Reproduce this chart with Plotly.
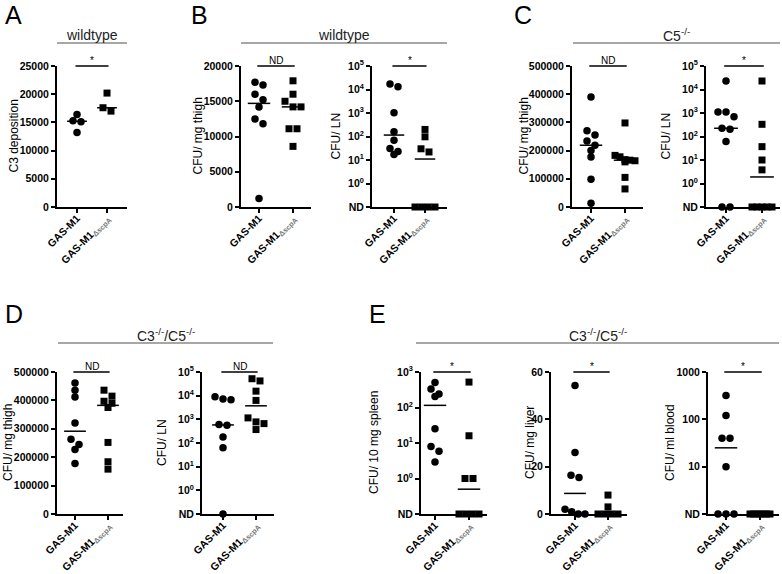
import numpy as np
import plotly.graph_objects as go

W, H = 782, 574

def px_x(x):
    return x / W

def px_y(y):
    return 1 - y / H

# ---------------- data ----------------
categories = ["GAS-M1", "GAS-M1<sub><span style='color:#777777'>ΔscpA</span></sub>"]

A_c3_wt = [15300, 15100, 16400, 13200]
A_c3_mut = [20200, 17600, 17000]

B_thigh_wt = [17300, 17700, 16000, 14200, 15200, 12500, 11800, 1200]
B_thigh_mut = [17900, 16000, 15000, 14200, 14200, 11100, 11100, 8600]
B_ln_wt = [17100, 13200, 1030, 160, 70, 31, 17, 23]
B_ln_mut = [200, 97, 30, 22, 0, 0, 0, 0]

C_thigh_wt = [390000, 255000, 270000, 234000, 200000, 219000, 177000, 98000, 13000]
C_thigh_mut = [298000, 183000, 178000, 168000, 164000, 160000, 166000, 105000, 64000]
C_ln_wt = [23000, 1100, 1100, 700, 204, 224, 61, 0, 0]
C_ln_mut = [23000, 330, 37, 10, 3.8, 0, 0, 0, 0, 0]

D_thigh_wt = [461000, 436000, 412000, 320000, 263000, 245000, 227000, 178000]
D_thigh_mut = [436000, 415000, 397000, 390000, 375000, 252000, 184000, 158000]
D_ln_wt = [8900, 6800, 7200, 600, 560, 180, 63, 0]
D_ln_mut = [52000, 42000, 15500, 6300, 1150, 780, 660, 370]

E_spleen_wt = [510, 240, 205, 330, 25, 8, 5.9, 2.9]
E_spleen_mut = [520, 16, 1, 1, 0, 0, 0, 0]
E_liver_wt = [54.3, 26, 16.4, 15.4, 2, 1, 0, 0]
E_liver_mut = [8, 3, 0, 0, 0, 0]
E_blood_wt = [320, 120, 40, 40, 10, 0, 0, 0]
E_blood_mut = [0, 0, 0, 0, 0, 0, 0]

sig_labels = ["*", "ND", "*", "ND", "*", "ND", "ND", "*", "*", "*"]
y_titles = ["C3 deposition", "CFU/ mg thigh", "CFU/ LN", "CFU/ mg thigh", "CFU/ LN",
            "CFU/ mg thigh", "CFU/ LN", "CFU/ 10 mg spleen", "CFU/ mg liver", "CFU/ ml blood"]

lin_ticks_A = [0, 5000, 10000, 15000, 20000, 25000]
lin_ticks_B = [0, 5000, 10000, 15000, 20000]
lin_ticks_CD = [0, 100000, 200000, 300000, 400000, 500000]
lin_ticks_liver = [0, 20, 40, 60]

# ---------------- layout geometry (window pixels) ----------------
# (axis_x, right_x, cat0_x, cat1_x, top_y, bottom_y, title_x)
geo = [
    (57, 127, 77, 107, 66, 207, 13),
    (241, 311, 259, 293, 66, 207, 197),
    (372, 447, 394, 425, 66, 207, 335),
    (572, 643, 591, 625, 66, 207, 523),
    (706, 780, 726, 762, 66, 207, 665),
    (57, 123, 75, 108, 372, 514, 8),
    (202, 274, 223, 256, 372, 514, 162),
    (421, 487, 435, 469, 372, 514, 374),
    (551, 627, 575, 608, 372, 514, 530),
    (708, 779, 726, 760, 372, 514, 670),
]

def log_ticks(lo, hi):
    vals = [10.0 ** k for k in range(lo, hi + 1)]
    txt = [f"<b>10<sup>{k}</sup></b>" for k in range(lo, hi + 1)]
    txt[0] = "<b>ND</b>"
    return vals, txt

panels = [
    dict(wt=A_c3_wt, mut=A_c3_mut, log=False, rng=(0, 25000), ticks=lin_ticks_A),
    dict(wt=B_thigh_wt, mut=B_thigh_mut, log=False, rng=(0, 20000), ticks=lin_ticks_B),
    dict(wt=B_ln_wt, mut=B_ln_mut, log=True, rng=(-1, 5)),
    dict(wt=C_thigh_wt, mut=C_thigh_mut, log=False, rng=(0, 500000), ticks=lin_ticks_CD),
    dict(wt=C_ln_wt, mut=C_ln_mut, log=True, rng=(-1, 5)),
    dict(wt=D_thigh_wt, mut=D_thigh_mut, log=False, rng=(0, 500000), ticks=lin_ticks_CD),
    dict(wt=D_ln_wt, mut=D_ln_mut, log=True, rng=(-1, 5)),
    dict(wt=E_spleen_wt, mut=E_spleen_mut, log=True, rng=(-1, 3)),
    dict(wt=E_liver_wt, mut=E_liver_mut, log=False, rng=(0, 60), ticks=lin_ticks_liver),
    dict(wt=E_blood_wt, mut=E_blood_mut, log=True, rng=(0, 3), blood=True),
]

FONT = "Liberation Sans, Arial, sans-serif"

def swarm_offsets(ypx, spacing=8.0, maxw=20.0, thr=6.0):
    order = np.argsort(ypx)
    rows, cur = [], [order[0]]
    for i in order[1:]:
        if abs(ypx[i] - ypx[cur[0]]) < thr:
            cur.append(i)
        else:
            rows.append(cur)
            cur = [i]
    rows.append(cur)
    off = np.zeros(len(ypx))
    for r in rows:
        n = len(r)
        if n == 1:
            continue
        step = min(spacing, maxw / (n - 1))
        r_sorted = sorted(r, key=lambda k: ypx[k])
        for j, k in enumerate(r_sorted):
            off[k] = (j - (n - 1) / 2) * step
    return off

fig = go.Figure()
shapes, annotations = [], []
layout = {}

for i, (p, g) in enumerate(zip(panels, geo), start=1):
    ax, rx, c0, c1, top, bot, tx = g
    sp = c1 - c0
    xr = [-(c0 - ax) / sp, 1 + (rx - c1) / sp]
    xname = "x" if i == 1 else f"x{i}"
    yname = "y" if i == 1 else f"y{i}"
    lo, hi = p["rng"]
    nd_val = 10.0 ** lo if p["log"] else 0.0

    def to_px(v):
        if p["log"]:
            lv = np.log10(v) if v > 0 else lo
            return bot - (lv - lo) / (hi - lo) * (bot - top)
        return bot - (v - lo) / (hi - lo) * (bot - top)

    for gi, (vals, sym, size) in enumerate([(p["wt"], "circle", 7.5), (p["mut"], "square", 7)]):
        vals = np.array(vals, dtype=float)
        plot_vals = np.where(vals > 0, vals, nd_val) if p["log"] else vals
        ypx = np.array([to_px(v) for v in vals])
        offs = swarm_offsets(ypx) / sp
        fig.add_trace(go.Scatter(
            x=gi + offs, y=plot_vals, mode="markers",
            marker=dict(symbol=sym, size=size, color="black"),
            xaxis=xname, yaxis=yname, cliponaxis=False, showlegend=False,
            hoverinfo="skip"))
        med = float(np.median(vals))
        if p["log"] and med <= 0:
            med = nd_val
        fig.add_trace(go.Scatter(
            x=[gi - 0.33, gi + 0.33], y=[med, med], mode="lines",
            line=dict(color="black", width=1.5),
            xaxis=xname, yaxis=yname, cliponaxis=False, showlegend=False,
            hoverinfo="skip"))

    xdom = [px_x(ax), px_x(rx)]
    ydom = [px_y(bot), px_y(top)]
    layout["xaxis" if i == 1 else f"xaxis{i}"] = dict(
        domain=xdom, range=xr, anchor=yname, showgrid=False, zeroline=False,
        showline=True, linecolor="black", linewidth=2, automargin=False,
        tickmode="array", tickvals=[0, 1], ticktext=[f"<b>{c}</b>" for c in categories],
        ticks="outside", ticklen=4, tickwidth=1.5, tickcolor="black",
        ticklabelstandoff=-5,
        tickangle=-45, tickfont=dict(family=FONT, size=10.5, color="black"),
        fixedrange=True)
    if p["log"]:
        if p.get("blood"):
            tv = [1, 10, 100, 1000]
            tt = ["<b>ND</b>", "<b>10</b>", "<b>100</b>", "<b>1000</b>"]
        else:
            tv, tt = log_ticks(lo, hi)
        ycfg = dict(type="log", range=[lo, hi], tickvals=tv, ticktext=tt)
    else:
        ycfg = dict(range=[lo, hi], tickvals=p["ticks"],
                    ticktext=[f"<b>{t}</b>" for t in p["ticks"]])
    ycfg.update(domain=ydom, anchor=xname, showgrid=False, zeroline=False,
                showline=True, linecolor="black", linewidth=2, automargin=False,
                tickmode="array", ticks="outside", ticklen=4, tickwidth=1.5,
                tickcolor="black",
                tickfont=dict(family=FONT, size=10.5, color="black"),
                fixedrange=True)
    layout["yaxis" if i == 1 else f"yaxis{i}"] = ycfg

    # significance bar
    shapes.append(dict(type="line", xref=xname, yref=f"{yname} domain",
                       x0=-0.05, x1=1.05, y0=1, y1=1,
                       line=dict(color="black", width=1.5)))
    annotations.append(dict(text=sig_labels[i - 1], xref=xname, yref=f"{yname} domain",
                            x=0.5, y=1, yanchor="bottom", showarrow=False,
                            font=dict(family=FONT, size=10, color="black"), yshift=-2))
    # y title
    annotations.append(dict(text=y_titles[i - 1], xref="paper", yref="paper",
                            x=px_x(tx), y=px_y((top + bot) / 2), textangle=-90,
                            xanchor="center", yanchor="middle", showarrow=False,
                            font=dict(family=FONT, size=12, color="black")))

# section headers: (text, x0, x1, line_y, text_y)
headers = [
    ("wildtype", 57, 127, 43, 35),
    ("wildtype", 241, 447, 43, 35),
    ("C5<sup>-/-</sup>", 573, 780, 43, 35),
    ("C3<sup>-/-</sup>/C5<sup>-/-</sup>", 58, 273, 343, 335),
    ("C3<sup>-/-</sup>/C5<sup>-/-</sup>", 416, 779, 343, 335),
]
for txt, x0, x1, ly, ty in headers:
    shapes.append(dict(type="line", xref="paper", yref="paper",
                       x0=px_x(x0), x1=px_x(x1), y0=px_y(ly), y1=px_y(ly),
                       line=dict(color="#8a8a8a", width=1.5)))
    annotations.append(dict(text=txt, xref="paper", yref="paper",
                            x=px_x((x0 + x1) / 2), y=px_y(ty), xanchor="center",
                            yanchor="middle", showarrow=False,
                            font=dict(family=FONT, size=14, color="#222222")))

letters = [("A", 3, 15), ("B", 189, 15), ("C", 512, 15), ("D", 3, 314), ("E", 367, 314)]
for t, x, y in letters:
    annotations.append(dict(text=t, xref="paper", yref="paper", x=px_x(x), y=px_y(y),
                            xanchor="left", yanchor="middle", showarrow=False,
                            font=dict(family=FONT, size=25, color="black")))

fig.update_layout(
    width=W, height=H, margin=dict(l=0, r=0, t=0, b=0, autoexpand=False),
    paper_bgcolor="white", plot_bgcolor="white",
    shapes=shapes, annotations=annotations, showlegend=False,
    **layout)

# remove the browser's default 8px page margin so the figure fills the window exactly
fig.write_html("out.html", config={"displayModeBar": False},
               post_script="document.body.style.margin='0px';")
